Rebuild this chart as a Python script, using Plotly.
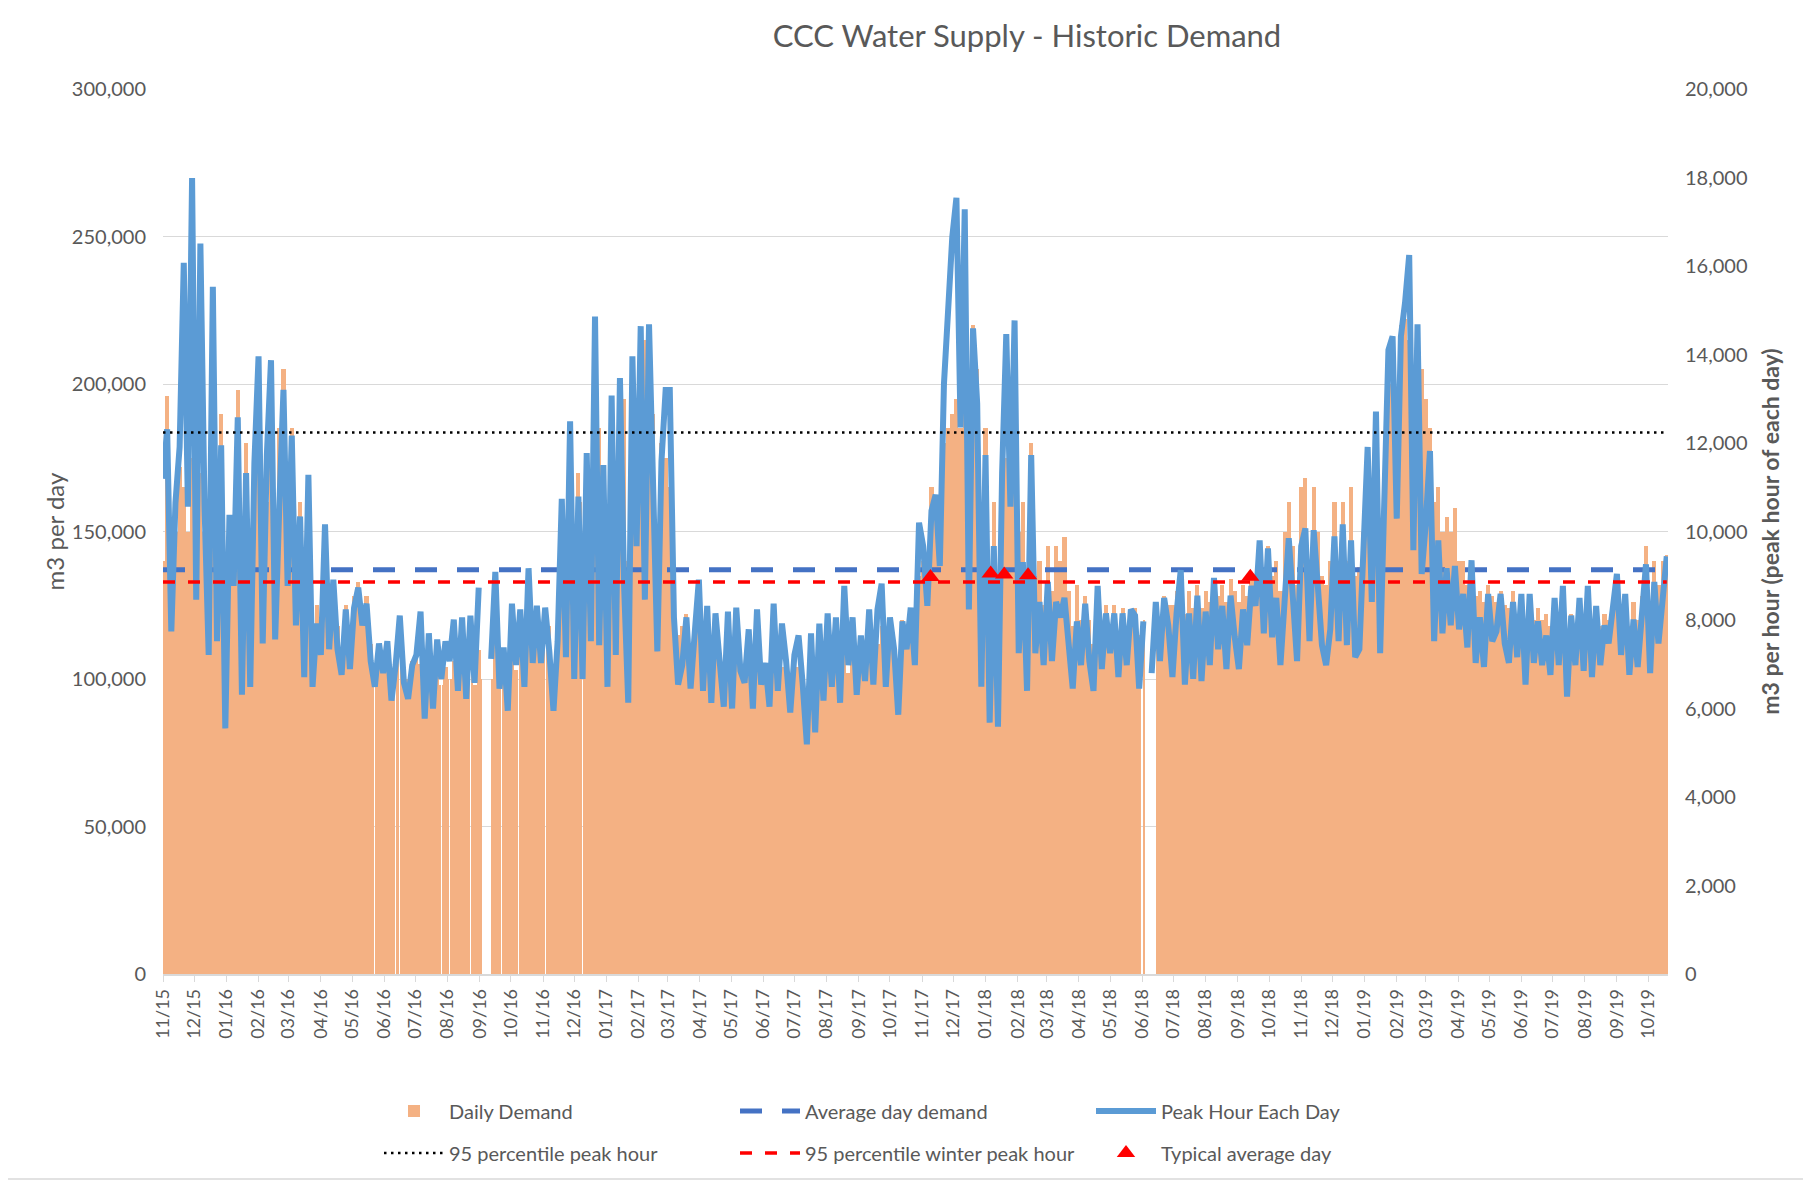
import pandas as pd
import plotly.graph_objects as go

# ---------------- data ----------------
start_date = "2015-11-01"
step_days = 4  # one reading every 4 days

# Peak hour each day, m3 per hour (right axis); None = no data
peak_hour = [
    11190, 12310, 7740, 10650, 11910, 16070, 10560, 17990, 8460, 16510, 10560, 7210, 15530, 7520, 11950, 5550,
    10380, 8770, 12580, 6310, 11320, 6490, 11550, 13960, 7470, 11730, 13870, 7560, 10560, 13200, 8770, 12170,
    7880, 10340, 6710, 11280, 6490, 7920, 7210, 10160, 7340, 8910, 7340, 6760, 8240, 6890, 8280, 8730,
    7880, 8370, 7070, 6490, 7470, 6800, 7520, 6180, 6980, 8100, 6580, 6220, 6980, 7210,
    8190, 5770, 7700, 6000, 7560, 6670, 7520, 7070, 8010, 6400, 8060, 6220, 8100, 6580, 8730, None,
    None, 7120, 9090, 6450, 7380, 5950, 8370, 6980, 8240, 6490, 9170, 7030, 8320, 7030, 8280, 7290,
    5950, 7520, 10740, 7160, 12490, 6670, 10790, 6670, 11770, 7520, 14860, 7430, 11500, 6490, 13070, 7210,
    13470, 8770, 6130, 13960, 9670, 14640, 8460, 14680, 10560, 7290, 11590, 13200,
    13200, 8060, 6540, 6980, 8060, 6450, 7700, 8910, 6400, 8320, 6130, 8150, 7070, 6040, 8190, 6000,
    8280, 6850, 6580, 7790, 6000, 8240, 6540, 7030, 6040, 8370, 6400, 7920, 7070, 5910, 7210, 7650,
    6540, 5190, 7700, 5460, 7920, 6180, 8150, 6490, 8060, 6130, 8770, 6980, 8060, 6310, 7650, 6620,
    8240, 6540, 8240, 8820, 6490, 8060, 7340, 5860, 7970, 7340, 8280, 6980, 10200,
    9670, 8320, 10470, 10830, 9220, 13340, 14810, 16650, 17540, 12350, 17280, 8240, 14590, 12890, 6490, 11730,
    5680, 9670, 5590, 11320, 14460, 10560, 14770, 7250, 9310, 6400, 11730, 7250, 8410, 6980, 8860, 7070,
    8410, 8060, 8500, 7610, 6450, 7970, 6980, 8370, 7070, 6400, 8770, 6890, 8150, 7250, 8150, 6710,
    8150, 6980, 8240, 8100, 6450, 7970, None, 6800, 8410, 7070, 8500, 7880,
    6710, 8150, 9130, 6540, 8150, 6670, 8550, 6620, 8190, 6980, 8950, 7340, 8320, 6890, 8550, 7610,
    6890, 8240, 7430, 8770, 8320, 9800, 7700, 9620, 7610, 8500, 6980, 8410, 9850, 8500, 7070, 9670,
    10070, 7520, 10030, 8770, 7430, 6980, 7790, 9890, 7520, 10160, 7430, 9800, 7160, 7340, 9490, 11910,
    8410, 12710, 7250, 10380, 14100, 14410, 10290, 14410, 15170, 16250, 9580, 14680,
    9040, 10200, 11820, 7520, 9800, 7700, 9170, 7880, 9220, 7790, 8590, 7380, 9350, 7030, 8060, 6940,
    8590, 7520, 7740, 8590, 7470, 7030, 8410, 7160, 8590, 6540, 8590, 7030, 7970, 6980, 7650, 6760,
    8500, 6980, 8770, 6270, 8100, 6980, 8500, 6850, 8770, 6710, 8320, 6980, 7880, 7470, 8410, 9040,
    7210, 8590, 6760, 8010, 6940, 8060, 9260, 6800, 8860, 7470, 8500, 9440,
]

# Daily demand, m3 per day (left axis); None = no data
daily_demand = [
    140000, 196000, 125000, 150000, 172000, 165000, 150000, 175000, 130000, 170000, 150000, 120000, 160000, 125000, 190000, 100000,
    150000, 140000, 198000, 110000, 180000, 115000, 160000, 170000, 125000, 160000, 175000, 125000, 185000, 205000, 150000, 185000,
    145000, 160000, 115000, 160000, 110000, 125000, 115000, 140000, 115000, 132000, 118000, 110000, 125000, 112000, 128000, 133000,
    120000, 128000, 112000, 104000, 112000, 105000, 112000, 98000, 106000, 115000, 102000, 100000, 106000, 108000,
    105000, 95000, 102000, 96000, 104000, 98000, 104000, 100000, 106000, 97000, 106000, 95000, 107000, 98000, 110000, 100000,
    None, 100000, 112000, 98000, 104000, 95000, 110000, 103000, 112000, 100000, 125000, 108000, 118000, 112000, 122000, 118000,
    105000, 122000, 135000, 125000, 150000, 130000, 170000, 160000, 150000, 140000, 165000, 185000, 150000, 130000, 160000, 150000,
    200000, 195000, 140000, 165000, 160000, 175000, 215000, 170000, 190000, 140000, 180000, 175000,
    165000, 135000, 115000, 118000, 122000, 110000, 115000, 120000, 106000, 112000, 102000, 110000, 104000, 100000, 108000, 100000,
    106000, 102000, 100000, 104000, 98000, 106000, 100000, 102000, 98000, 106000, 100000, 104000, 102000, 96000, 102000, 104000,
    98000, 90000, 102000, 92000, 104000, 98000, 106000, 100000, 106000, 98000, 110000, 102000, 108000, 100000, 106000, 102000,
    110000, 104000, 112000, 118000, 108000, 118000, 112000, 104000, 120000, 118000, 124000, 122000, 135000,
    140000, 135000, 165000, 160000, 155000, 180000, 185000, 190000, 195000, 185000, 190000, 150000, 220000, 205000, 130000, 185000,
    110000, 160000, 105000, 150000, 175000, 165000, 180000, 150000, 160000, 125000, 180000, 135000, 140000, 125000, 145000, 130000,
    145000, 140000, 148000, 130000, 118000, 132000, 120000, 128000, 120000, 112000, 130000, 115000, 125000, 118000, 125000, 112000,
    124000, 118000, 122000, 124000, 115000, 120000, None, None, 125000, 118000, 128000, 125000,
    125000, 130000, 128000, 122000, 130000, 124000, 132000, 124000, 130000, 126000, 134000, 128000, 132000, 126000, 134000, 130000,
    126000, 132000, 128000, 136000, 134000, 142000, 132000, 145000, 135000, 140000, 130000, 150000, 160000, 145000, 132000, 165000,
    168000, 140000, 165000, 150000, 135000, 132000, 140000, 160000, 138000, 160000, 140000, 165000, 135000, 138000, 150000, 175000,
    145000, 185000, 140000, 170000, 200000, 210000, 175000, 220000, 222000, 215000, 175000, 215000,
    205000, 195000, 185000, 160000, 165000, 150000, 155000, 150000, 158000, 140000, 140000, 132000, 138000, 128000, 130000, 126000,
    132000, 128000, 126000, 130000, 125000, 124000, 130000, 122000, 128000, 118000, 126000, 120000, 124000, 120000, 122000, 118000,
    126000, 120000, 126000, 115000, 122000, 118000, 126000, 118000, 126000, 116000, 124000, 118000, 122000, 120000, 126000, 128000,
    120000, 128000, 118000, 126000, 120000, 128000, 145000, 125000, 140000, 132000, 140000, 142000,
]

# Days with no daily demand recorded (white gaps in the bars)
missing_dates = [
    "2016-05-22", "2016-05-23", "2016-05-30", "2016-06-11", "2016-06-15", "2016-07-06", "2016-07-10",
    "2016-07-25", "2016-07-26", "2016-08-02", "2016-08-03", "2016-08-07", "2016-08-23",
    "2016-09-03", "2016-09-04", "2016-09-05", "2016-09-06", "2016-09-07", "2016-09-08", "2016-09-09",
    "2016-09-10", "2016-09-11", "2016-09-21", "2016-10-08", "2016-11-03", "2016-12-08",
    "2018-05-31", "2018-06-01", "2018-06-04", "2018-06-05", "2018-06-06", "2018-06-07", "2018-06-08",
    "2018-06-09", "2018-06-10", "2018-06-11", "2018-06-12", "2018-06-13",
]

typical_dates = ["2017-11-09", "2018-01-06", "2018-01-19", "2018-02-11", "2018-09-13"]
typical_values = [8970, 9050, 9030, 9010, 8980]  # m3 per hour (right axis)

avg_day_demand = 137000        # m3 per day
p95_peak_hour = 12240          # m3 per hour
p95_winter_peak_hour = 8860    # m3 per hour

# ---------------- build ----------------
dates = pd.date_range(start_date, periods=len(peak_hour), freq=f"{step_days}D")
one_day = pd.Timedelta(days=1)
missing = set(pd.to_datetime(missing_dates))

# each reading stands for the 4 days centred on its date; missing days split the bar
bar_x, bar_y, bar_w = [], [], []
for d, v in zip(dates, daily_demand):
    if v is None:
        continue
    days = [d + (k - step_days // 2) * one_day for k in range(step_days)]
    run = []
    for dd in days + [None]:
        if dd is not None and dd not in missing:
            run.append(dd)
        elif run:
            x0, x1 = run[0], run[-1] + one_day
            bar_x.append(x0 + (x1 - x0) / 2)
            bar_y.append(v)
            bar_w.append((x1 - x0).total_seconds() * 1000)
            run = []

span = [dates[0], dates[-1]]
grey = "#595959"

fig = go.Figure()
fig.add_trace(go.Bar(
    x=bar_x, y=bar_y, width=bar_w, name="Daily Demand",
    marker=dict(color="#F4B183", line=dict(width=0)),
    legend="legend", legendrank=1, hoverinfo="x+y"))
fig.add_trace(go.Scatter(
    x=span, y=[avg_day_demand] * 2, mode="lines", name="Average day demand",
    line=dict(color="#4472C4", width=5, dash="22px,20px"),
    legend="legend", legendrank=2))
fig.add_trace(go.Scatter(
    x=dates, y=peak_hour, mode="lines", name="Peak Hour Each Day", yaxis="y2",
    line=dict(color="#5B9BD5", width=6), connectgaps=False,
    legend="legend", legendrank=3))
fig.add_trace(go.Scatter(
    x=span, y=[p95_peak_hour] * 2, mode="lines", name="95 percentile peak hour", yaxis="y2",
    line=dict(color="#000000", width=2.5, dash="2.5px,4.5px"),
    legend="legend2", legendrank=4))
fig.add_trace(go.Scatter(
    x=span, y=[p95_winter_peak_hour] * 2, mode="lines", name="95 percentile winter peak hour", yaxis="y2",
    line=dict(color="#FF0000", width=3.5, dash="12px,13px"),
    legend="legend2", legendrank=5))
fig.add_trace(go.Scatter(
    x=pd.to_datetime(typical_dates), y=typical_values, mode="markers", name="Typical average day",
    yaxis="y2", marker=dict(symbol="triangle-up", size=16, color="#FF0000"),
    legend="legend2", legendrank=6))

# The page body adds an 8px margin, so target window pixels are shifted by OFF.
OFF = 8
W, H = 1811 - OFF, 1181 - OFF
# plot area in window pixels: x 163..1668, y 89..974
px0, px1, py0, py1 = 163 - OFF, 1668 - OFF, 89 - OFF, 974 - OFF
L, R, T, B = px0, W - px1, py0, H - py1
pw, ph = px1 - px0, py1 - py0


def xp(wx):  # window x pixel -> paper
    return (wx - OFF - px0) / pw


def yp(wy):  # window y pixel -> paper
    return (py1 - (wy - OFF)) / ph


x_end = pd.Timestamp(start_date) + pd.Timedelta(days=1449.2)

legend_common = dict(
    orientation="h", xanchor="left", yanchor="middle", x=xp(379),
    entrywidth=281, entrywidthmode="pixels", itemwidth=60,
    font=dict(family="Lato", size=20, color=grey), bgcolor="rgba(0,0,0,0)",
    traceorder="normal",
)

fig.update_layout(
    width=W, height=H, template="none",
    margin=dict(l=L, r=R, t=T, b=B, autoexpand=False),
    paper_bgcolor="white", plot_bgcolor="white",
    font=dict(family="Lato", color=grey, size=20),
    title=dict(text="CCC Water Supply - Historic Demand", xref="container", yref="container",
               x=(1027 - OFF) / W, y=1 - (36 - OFF) / H, xanchor="center", yanchor="middle",
               font=dict(family="Lato", size=31, color=grey)),
    barmode="overlay", bargap=0,
    showlegend=True,
    legend=dict(**legend_common, y=yp(1111)),
    legend2=dict(**legend_common, y=yp(1153)),
    xaxis=dict(type="date", range=[pd.Timestamp(start_date), x_end],
               tick0=start_date, dtick="M1", tickformat="%m/%y", tickangle=-90,
               ticks="outside", ticklen=6, tickcolor="#D9D9D9", tickwidth=1.3,
               showline=True, linecolor="#D9D9D9", linewidth=1.5,
               showgrid=False, zeroline=False, automargin=False,
               tickfont=dict(family="Lato", size=18, color=grey)),
    yaxis=dict(range=[0, 300000], dtick=50000, tickformat=",", showgrid=True,
               gridcolor="#D9D9D9", gridwidth=1.3, zeroline=False, ticks="",
               ticklabelstandoff=16, automargin=False, showline=False,
               tickfont=dict(family="Lato", size=20, color=grey),
               title=dict(text="m3 per day", standoff=0, font=dict(family="Lato", size=24, color=grey))),
    yaxis2=dict(overlaying="y", side="right", range=[0, 20000], dtick=2000, tickformat=",",
                showgrid=False, zeroline=False, ticks="", ticklabelstandoff=16,
                automargin=False, showline=False,
                tickfont=dict(family="Lato", size=20, color=grey),
                title=dict(text="m3 per hour (peak hour of each day)", standoff=16,
                           font=dict(family="Lato", size=23, color=grey, weight="bold"))),
    shapes=[dict(type="rect", xref="paper", yref="paper", layer="below",
                 x0=xp(0), x1=xp(1809), y0=yp(1179), y1=yp(0),
                 line=dict(color="#D9D9D9", width=1.3), fillcolor="rgba(0,0,0,0)")],
)

fig.write_html("out.html")
